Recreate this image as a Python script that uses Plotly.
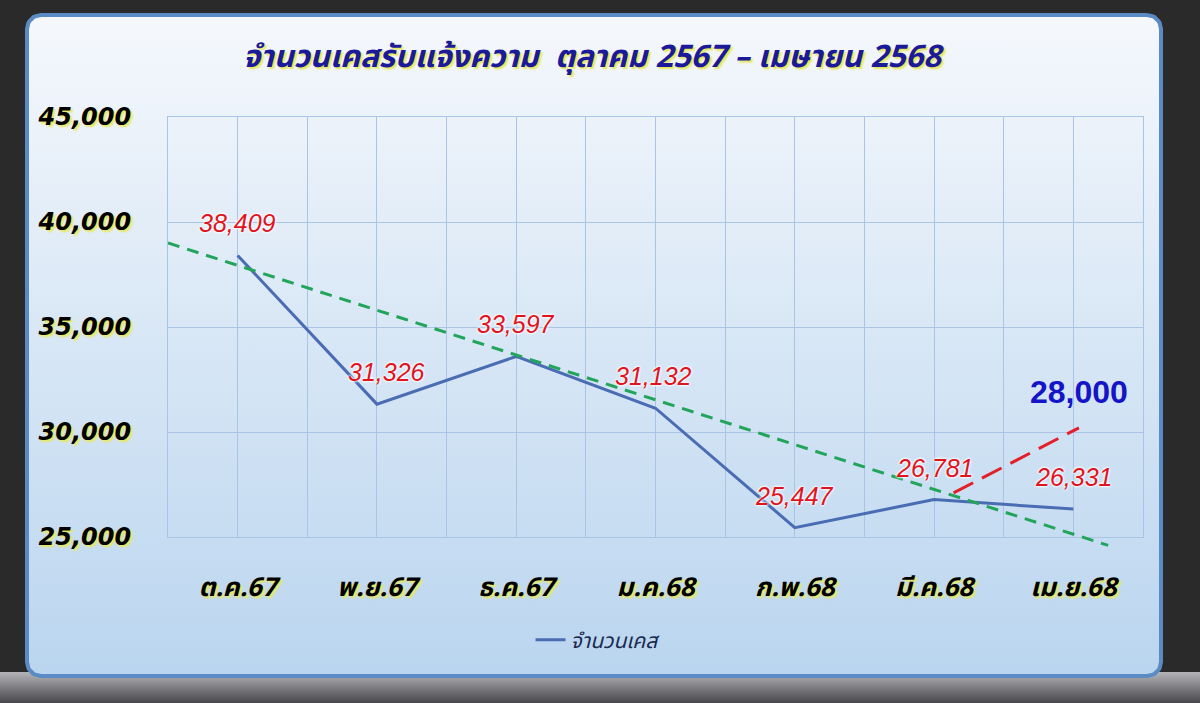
import numpy as np
import plotly.graph_objects as go

# ---------------- data ----------------
categories = ["ต.ค.67", "พ.ย.67", "ธ.ค.67", "ม.ค.68", "ก.พ.68", "มี.ค.68", "เม.ย.68"]
cases = [38409, 31326, 33597, 31132, 25447, 26781, 26331]
trend_x = [-0.5, 6.25]
trend_y = [39000, 24600]
forecast_x = [5.14, 6.04]
forecast_y = [27100, 30200]
forecast_label = "28,000"
y_ticks = [25000, 30000, 35000, 40000, 45000]
title_text = "จำนวนเคสรับแจ้งความ  ตุลาคม 2567 – เมษายน 2568"
series_name = "จำนวนเคส"

# ---------------- style ----------------
W, H = 1200, 703
label_dx = [0, 10, 0, -2, 0, 0, 0]
THAI = "Tahoma, 'Noto Sans Thai', 'Noto Sans', 'DejaVu Sans', sans-serif"
NUM = "'DejaVu Sans', Verdana, sans-serif"
GRID = "#a9c4e4"
Y_LO, Y_HI = 25000, 45000
PLOT_TOP, PLOT_BOT = 117, 537
EXT_BOT = 562  # extended (unclipped) area for the trend line


def rounded_rect(x0, y0, x1, y1, r, n=12):
    xs, ys = [], []
    corners = [(x1 - r, y0 + r, -90, 0), (x1 - r, y1 - r, 0, 90),
               (x0 + r, y1 - r, 90, 180), (x0 + r, y0 + r, 180, 270)]
    for cx, cy, a0, a1 in corners:
        t = np.radians(np.linspace(a0, a1, n))
        xs += list(cx + r * np.cos(t))
        ys += list(cy + r * np.sin(t))
    xs.append(xs[0]); ys.append(ys[0])
    return xs, ys


fig = go.Figure()

# floor band below panel
fig.add_trace(go.Scatter(
    x=[0, W, W, 0, 0], y=[672, 672, H, H, 672], mode="lines", fill="toself",
    line=dict(width=0), fillgradient=dict(type="vertical", start=672, stop=H,
                                          colorscale=[[0, "#b4b4b8"], [1, "#48484c"]]),
    hoverinfo="skip", showlegend=False, xaxis="x", yaxis="y"))

px, py = rounded_rect(27, 15, 1161, 676, 14)
fig.add_trace(go.Scatter(
    x=px, y=py, mode="lines", fill="toself",
    line=dict(color="#5a8bc4", width=4),
    fillgradient=dict(type="vertical", start=15, stop=676,
                      colorscale=[[0, "#f5f8fc"], [1, "#bad5ef"]]),
    hoverinfo="skip", showlegend=False, xaxis="x", yaxis="y"))

xs = list(range(len(categories)))

fig.add_trace(go.Scatter(
    x=xs, y=cases, mode="lines", name=series_name,
    line=dict(color="#4a6cb3", width=3),
    xaxis="x2", yaxis="y2"))

fig.add_trace(go.Scatter(
    x=forecast_x, y=forecast_y, mode="lines",
    line=dict(color="#e3202a", width=3, dash="22px,10px"),
    showlegend=False, hoverinfo="skip", xaxis="x2", yaxis="y2"))

# trend line on an overlay subplot with the same scale but a taller box,
# so it can run past the bottom of the plot frame as in the reference
fig.add_trace(go.Scatter(
    x=trend_x, y=trend_y, mode="lines",
    line=dict(color="#22a55b", width=3, dash="12px,8px"),
    showlegend=False, hoverinfo="skip", xaxis="x3", yaxis="y3"))

annotations = []
for i, v in enumerate(cases):
    annotations.append(dict(
        x=xs[i], y=v, xref="x2", yref="y2", text=f"{v:,}", showarrow=False,
        yshift=32, xshift=label_dx[i],
        font=dict(family="'Liberation Sans', Arial, sans-serif", size=25,
                  color="#e0141e", style="italic",
                  shadow="0 0 3px #ffffff, 0 0 3px #ffffff, 0 0 2px #ffffff")))

annotations.append(dict(
    x=forecast_x[-1], y=forecast_y[-1], xref="x2", yref="y2", text=forecast_label,
    showarrow=False, yshift=36,
    font=dict(family="'Liberation Sans', Arial, sans-serif", size=32,
              color="#1414c8", weight="bold")))

annotations.append(dict(
    x=593 / W, y=1 - 57 / H, xref="paper", yref="paper", text=title_text,
    showarrow=False, xanchor="center", yanchor="middle",
    font=dict(family=THAI, size=31, color="#1a1a9a", weight="bold",
              style="italic", shadow="2px 2px 2px #e6e65a")))

tick_font_shadow = "2px 2px 2px #e8e860"
px_per_unit = (PLOT_BOT - PLOT_TOP) / (Y_HI - Y_LO)
ext_lo = Y_LO - (EXT_BOT - PLOT_BOT) / px_per_unit

fig.update_layout(
    width=W, height=H,
    margin=dict(l=0, r=0, t=0, b=0, pad=0, autoexpand=False),
    paper_bgcolor="#2a2a2a",
    plot_bgcolor="rgba(0,0,0,0)",
    annotations=annotations,
    xaxis=dict(domain=[0, 1], range=[0, W], visible=False, fixedrange=True,
               automargin=False),
    yaxis=dict(domain=[0, 1], range=[H, 0], visible=False, fixedrange=True,
               automargin=False),
    xaxis2=dict(domain=[168 / W, 1143 / W], anchor="y2", range=[-0.5, 6.5],
                automargin=False,
                tickmode="array", tickvals=xs, ticktext=categories,
                showgrid=True, gridcolor=GRID, gridwidth=1,
                minor=dict(tickmode="linear", tick0=-0.5, dtick=1,
                           showgrid=True, gridcolor=GRID, gridwidth=1),
                showline=True, mirror=True, linecolor=GRID, linewidth=1,
                zeroline=False, ticks="", ticklabelstandoff=27,
                tickfont=dict(family=THAI, size=26, color="#000000",
                              weight="bold", style="italic",
                              shadow=tick_font_shadow)),
    yaxis2=dict(domain=[1 - PLOT_BOT / H, 1 - PLOT_TOP / H], anchor="x2",
                automargin=False,
                range=[Y_LO, Y_HI], tickmode="array", tickvals=y_ticks,
                tickformat=",d", showgrid=True, gridcolor=GRID, gridwidth=1,
                showline=True, mirror=True, linecolor=GRID, linewidth=1,
                zeroline=False, ticks="", ticklabelstandoff=31,
                tickfont=dict(family=NUM, size=24, color="#000000",
                              weight="bold", style="italic",
                              shadow=tick_font_shadow)),
    xaxis3=dict(domain=[168 / W, 1143 / W], anchor="y3", range=[-0.5, 6.5],
                visible=False, automargin=False, fixedrange=True),
    yaxis3=dict(domain=[1 - EXT_BOT / H, 1 - PLOT_TOP / H], anchor="x3",
                range=[ext_lo, Y_HI], visible=False, automargin=False,
                fixedrange=True),
    legend=dict(orientation="h", x=598 / W, xanchor="center", y=1 - 640 / H,
                yanchor="middle", bgcolor="rgba(0,0,0,0)",
                font=dict(family=THAI, size=21, color="#1a2a50", style="italic")),
    showlegend=True,
)

fig.write_html(
    "out.html",
    config={"displayModeBar": False},
    post_script="document.body.style.margin='0';document.body.style.overflow='hidden';",
)
